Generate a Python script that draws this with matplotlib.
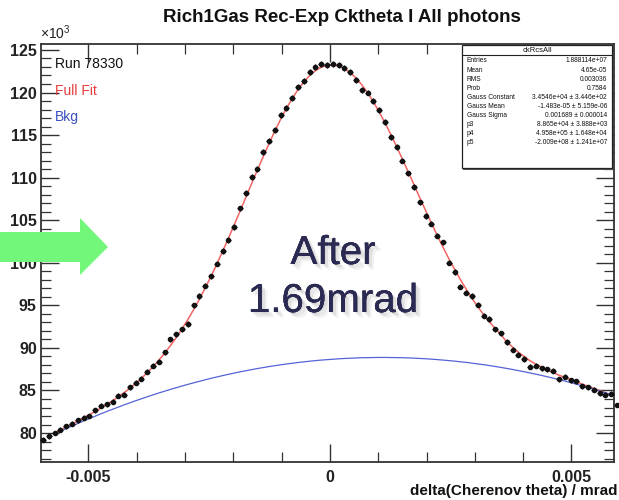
import numpy as np
import matplotlib
matplotlib.use("Agg")
import matplotlib.pyplot as plt
from matplotlib.ticker import MultipleLocator, FuncFormatter
from matplotlib.patches import Rectangle, Polygon
import matplotlib.patheffects as pe

plt.rcParams["font.family"] = ["Liberation Sans", "DejaVu Sans"]
plt.rcParams["mathtext.fontset"] = "custom"
plt.rcParams["mathtext.rm"] = "Liberation Sans"

# ---- histogram: 100 bins over [-0.006, 0.006] rad, counts in units of 10^3 ----
bin_edges = np.linspace(-0.006, 0.006, 101)
bin_centers = 0.5 * (bin_edges[:-1] + bin_edges[1:])

counts = [
    79.2, 79.6, 80.0, 80.4, 80.8, 81.1, 81.5, 81.8, 82.0, 82.7,
    83.2, 83.4, 83.7, 84.4, 84.5, 85.4, 85.9, 86.4, 87.2, 87.9,
    88.4, 89.5, 91.0, 91.6, 92.2, 92.8, 95.0, 96.1, 97.3, 98.4,
    99.9, 101.4, 102.7, 104.2, 106.4, 108.2, 110.1, 111.0, 113.0, 114.3,
    115.6, 117.4, 118.2, 119.4, 120.6, 121.4, 122.4, 123.0, 123.4, 123.2,
    123.4, 123.2, 122.9, 122.4, 121.5, 120.3, 120.0, 119.0, 117.9, 116.5,
    114.8, 113.6, 112.0, 110.5, 108.9, 107.1, 105.5, 104.6, 103.2, 102.4,
    100.0, 98.9, 97.2, 96.5, 96.1, 95.1, 93.8, 93.4, 92.2, 91.7,
    90.7, 89.8, 89.2, 88.7, 87.8, 87.9, 87.6, 87.5, 87.3, 86.3,
    86.6, 86.2, 86.1, 85.5, 85.4, 85.1, 84.7, 84.5, 84.6, 83.3,
]

# fitted curves sampled at the bin centres (Gaussian + pol2, and pol2 alone)
full_fit = [
    79.32, 79.67, 80.02, 80.36, 80.71, 81.07, 81.41, 81.79, 82.15, 82.53,
    82.94, 83.36, 83.79, 84.25, 84.75, 85.27, 85.84, 86.44, 87.10, 87.80,
    88.57, 89.38, 90.28, 91.22, 92.25, 93.34, 94.50, 95.74, 97.05, 98.42,
    99.86, 101.35, 102.89, 104.47, 106.07, 107.69, 109.31, 110.91, 112.48, 114.01,
    115.47, 116.86, 118.14, 119.31, 120.35, 121.24, 121.99, 122.57, 122.97, 123.20,
    123.25, 123.12, 122.82, 122.34, 121.70, 120.91, 119.97, 118.90, 117.72, 116.44,
    115.07, 113.65, 112.18, 110.69, 109.17, 107.64, 106.15, 104.67, 103.23, 101.84,
    100.50, 99.24, 98.03, 96.90, 95.83, 94.84, 93.92, 93.08, 92.28, 91.57,
    90.70, 90.10, 89.50, 89.00, 88.50, 88.10, 87.75, 87.40, 87.10, 86.80,
    86.55, 86.28, 86.00, 85.75, 85.50, 85.25, 85.00, 84.75, 84.50, 84.25,
]

background = [
    79.25, 79.58, 79.90, 80.21, 80.52, 80.83, 81.12, 81.42, 81.70, 81.98,
    82.26, 82.53, 82.79, 83.05, 83.31, 83.55, 83.80, 84.03, 84.26, 84.49,
    84.71, 84.92, 85.13, 85.33, 85.53, 85.72, 85.90, 86.08, 86.26, 86.43,
    86.59, 86.75, 86.90, 87.05, 87.19, 87.32, 87.45, 87.58, 87.69, 87.81,
    87.91, 88.02, 88.11, 88.20, 88.29, 88.36, 88.44, 88.51, 88.57, 88.62,
    88.67, 88.72, 88.76, 88.79, 88.82, 88.85, 88.86, 88.87, 88.88, 88.88,
    88.87, 88.86, 88.85, 88.83, 88.80, 88.76, 88.73, 88.68, 88.63, 88.57,
    88.51, 88.45, 88.37, 88.30, 88.21, 88.12, 88.03, 87.93, 87.82, 87.71,
    87.59, 87.47, 87.34, 87.20, 87.06, 86.92, 86.77, 86.61, 86.45, 86.28,
    86.11, 85.93, 85.74, 85.55, 85.35, 85.15, 84.94, 84.73, 84.51, 84.29,
]
fit_start = -0.0057

stat_labels = ["Entries", "Mean", "RMS", "Prob", "Gauss Constant", "Gauss Mean",
               "Gauss Sigma", "p3", "p4", "p5"]
stat_values = ["1.888114e+07", "4.65e-05", "0.003036", "0.7584",
               "3.4546e+04 \u00b1 3.446e+02", "-1.483e-05 \u00b1 5.159e-06",
               "0.001689 \u00b1 0.000014", "8.865e+04 \u00b1 3.888e+03",
               "4.958e+05 \u00b1 1.648e+04", "-2.009e+08 \u00b1 1.241e+07"]

W, H = 619, 500
fig = plt.figure(figsize=(W / 100, H / 100), dpi=100)

def fx(px):
    return px / W

def fy(py):
    return 1 - py / H

ax = fig.add_axes([fx(41), fy(462), fx(614 - 41), (462 - 44) / H])
ax.set_xlim(-0.00598, 0.00588)
ax.set_ylim(76.6, 125.7)

x = np.asarray(bin_centers)
y = np.asarray(counts)
yerr = np.sqrt(y * 1000.0) / 1000.0
ax.errorbar(x, y, xerr=0.00006, yerr=yerr, fmt="o", ms=3.0, color="#111111",
            ecolor="#111111", elinewidth=0.9, capsize=0, zorder=4, clip_on=False)

sel = x >= fit_start
ax.plot(x[sel], np.asarray(full_fit)[sel], color="#f26464", lw=1.1, zorder=3)
ax.plot(x[sel], np.asarray(background)[sel], color="#5563d6", lw=0.9, zorder=3)

# axis styling
for s in ax.spines.values():
    s.set_linewidth(1.3)
    s.set_color("#333333")
ax.xaxis.set_major_locator(MultipleLocator(0.005))
ax.xaxis.set_minor_locator(MultipleLocator(0.001))
ax.yaxis.set_major_locator(MultipleLocator(5))
ax.yaxis.set_minor_locator(MultipleLocator(1))
ax.xaxis.set_major_formatter(FuncFormatter(lambda v, p: f"{v:g}" if abs(v) > 1e-9 else "0"))
ax.tick_params(which="both", direction="in", top=True, right=True, color="#333333")
ax.tick_params(which="major", length=13, width=1.0, labelsize=11.5, pad=6)
ax.tick_params(which="minor", length=7, width=0.9)
ax.tick_params(axis="y", which="major", pad=3)
for lab in ax.get_xticklabels() + ax.get_yticklabels():
    lab.set_fontweight("bold")
    lab.set_color("#222222")

# title, axis label and exponent
fig.text(fx(342), fy(18), "Rich1Gas Rec-Exp Cktheta I All photons", ha="center",
         va="center", fontsize=13.5, fontweight="bold", color="#111111")
fig.text(fx(618), fy(491), "delta(Cherenov theta) / mrad", ha="right", va="center",
         fontsize=11, fontweight="bold", color="#111111")
fig.text(fx(40), fy(33), r"$\times10^{3}$", ha="left", va="center", fontsize=10,
         color="#222222")

# labels inside the frame
fig.text(fx(55), fy(64), "Run 78330", ha="left", va="center", fontsize=10, color="#111111")
fig.text(fx(55), fy(91), "Full Fit", ha="left", va="center", fontsize=10, color="#e83c3c")
fig.text(fx(55), fy(117), "Bkg", ha="left", va="center", fontsize=10, color="#3a4fc0")

# statistics box
bx0, bx1, by0, by1 = 462, 612, 45, 168
fig.patches.append(Rectangle((fx(bx0 + 1), fy(by1 + 1.5)), fx(bx1 - bx0), (by1 - by0) / H,
                             transform=fig.transFigure, facecolor="#555555",
                             edgecolor="none", zorder=5))
fig.patches.append(Rectangle((fx(bx0), fy(by1)), fx(bx1 - bx0), (by1 - by0) / H,
                             transform=fig.transFigure, facecolor="white",
                             edgecolor="#222222", lw=0.9, zorder=6))
fig.lines.append(plt.Line2D([fx(bx0), fx(bx1)], [fy(55), fy(55)], transform=fig.transFigure,
                            color="#222222", lw=0.8, zorder=7))
fig.text(fx((bx0 + bx1) / 2), fy(50), "ckRcsAll", ha="center", va="center",
         fontsize=5.5, color="#111111", zorder=8)
for k, (lab, val) in enumerate(zip(stat_labels, stat_values)):
    yy = 61 + 9.1 * k
    fig.text(fx(467), fy(yy), lab, ha="left", va="center", fontsize=4.8,
             color="#111111", zorder=8)
    fig.text(fx(607), fy(yy), val, ha="right", va="center", fontsize=4.8,
             color="#111111", zorder=8)

# annotation text with soft shadow
shadow = [pe.withSimplePatchShadow(offset=(1, -1), shadow_rgbFace="#888888", alpha=0.18),
          pe.withSimplePatchShadow(offset=(2.5, -2.5), shadow_rgbFace="#888888", alpha=0.18),
          pe.withSimplePatchShadow(offset=(4, -4), shadow_rgbFace="#999999", alpha=0.12),
          pe.Normal()]
fig.text(fx(333), fy(253), "After", ha="center", va="center", fontsize=29,
         color="#2a2a52", path_effects=shadow, zorder=9)
fig.text(fx(333), fy(301), "1.69mrad", ha="center", va="center", fontsize=29,
         color="#2a2a52", path_effects=shadow, zorder=9)

# green arrow pointing at the axis
arrow_px = [(0, 232), (80, 232), (80, 218), (108, 247), (80, 275), (80, 262), (0, 262)]
fig.patches.append(Polygon([(fx(a), fy(b)) for a, b in arrow_px], closed=True,
                           transform=fig.transFigure, facecolor="#72f77a",
                           edgecolor="none", zorder=20))

fig.savefig("out.png", dpi=100)
